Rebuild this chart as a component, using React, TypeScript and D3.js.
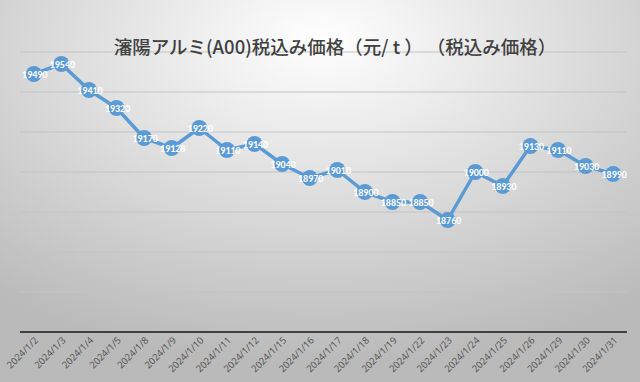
import React from "react";
import * as d3 from "d3";

const dates = ["2024/1/2","2024/1/3","2024/1/4","2024/1/5","2024/1/8","2024/1/9","2024/1/10","2024/1/11","2024/1/12","2024/1/15","2024/1/16","2024/1/17","2024/1/18","2024/1/19","2024/1/22","2024/1/23","2024/1/24","2024/1/25","2024/1/26","2024/1/29","2024/1/30","2024/1/31"];
const prices = [19490,19540,19410,19320,19170,19120,19220,19110,19140,19040,18970,19010,18900,18850,18850,18760,19000,18930,19130,19110,19030,18990];
const labels = ["19490","19540","19410","19320","19170","19128","19220","19110","19140","19040","18970","19010","18900","18850","18850","18760","19000","18930","19130","19110","19030","18990"];
const yTicks = [18200,18400,18600,18800,19000,19200,19400,19600];
const title = "瀋陽アルミ(A00)税込み価格（元/ t ） （税込み価格）";

export default function App() {
  const W = 640, H = 382;
  const left = 20, right = 627, top = 52, bottom = 332;
  const x = d3.scaleBand<string>().domain(dates).range([left, right]);
  const y = d3.scaleLinear().domain([18200, 19600]).range([bottom, top]);
  const line = d3.line<number>()
    .x((_, i) => (x(dates[i]) as number) + x.bandwidth() / 2)
    .y(d => y(d));
  const font = "'Noto Sans CJK JP', 'Noto Sans', sans-serif";
  return (
    <svg width={W} height={H} style={{ position: "absolute", left: 0, top: 0 }}>
      <defs>
        <radialGradient id="bg" cx="50%" cy="15%" r="80%" fx="50%" fy="10%">
          <stop offset="0%" stopColor="#ffffff" />
          <stop offset="100%" stopColor="#bababa" />
        </radialGradient>
      </defs>
      <rect width={W} height={H} fill="url(#bg)" />
      {yTicks.slice(1).map(t => (
        <line key={t} x1={left} x2={right} y1={y(t)} y2={y(t)} stroke="#c4c4c4" strokeWidth={1.2} />
      ))}
      <line x1={left} x2={right} y1={bottom} y2={bottom} stroke="#404040" strokeWidth={2} />
      <text x={335} y={54} textAnchor="middle" fontFamily={font} fontSize={18.5} fontWeight={500} fill="#404040">{title}</text>
      <path d={line(prices) || ""} fill="none" stroke="#5b9bd5" strokeWidth={3.5} strokeLinejoin="round" />
      {prices.map((v, i) => {
        const cx = (x(dates[i]) as number) + x.bandwidth() / 2;
        return (
          <g key={i}>
            <circle cx={cx} cy={y(v)} r={8} fill="#5b9bd5" />
            <text x={cx + 1} y={y(v) + 3.5} textAnchor="middle" fontFamily="Calibri, 'Liberation Sans', sans-serif" fontSize={10} fontWeight="bold" fill="#ffffff">{labels[i]}</text>
          </g>
        );
      })}
      {dates.map(d => {
        const cx = (x(d) as number) + x.bandwidth() / 2;
        return (
          <text key={d} transform={`translate(${cx + 5},${bottom + 9}) rotate(-45)`} textAnchor="end" fontFamily="'Open Sans', 'Liberation Sans', sans-serif" fontSize={9.5} fill="#505050">{d}</text>
        );
      })}
    </svg>
  );
}
